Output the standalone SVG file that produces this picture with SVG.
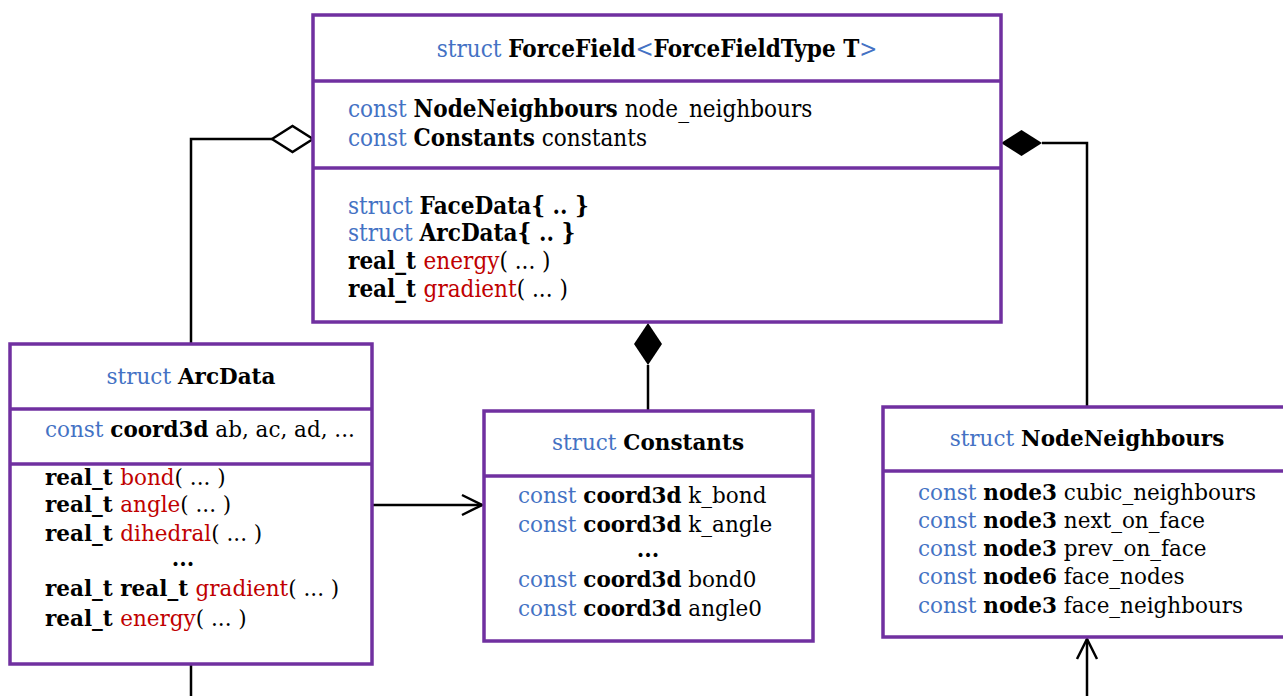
<svg xmlns="http://www.w3.org/2000/svg" width="1283" height="696" viewBox="0 0 1283 696">
  <style>
    .box { fill: #ffffff; stroke: #7030A0; stroke-width: 3.5; }
    .div { stroke: #7030A0; stroke-width: 3.5; }
    .edge { fill: none; stroke: #000000; stroke-width: 2.5; }
    text { font-family: "DejaVu Serif", "Liberation Serif", serif; font-size: 21.5px; fill: #000000; }
    .hdr { font-size: 23.5px; }
    .cond { font-stretch: condensed; font-size: 24px; }
    .kw { fill: #4472C4; }
    .fn { fill: #C00000; }
    .b { font-weight: bold; }
  </style>
  <defs>
    <marker id="open-arrow" viewBox="0 0 24 24" refX="22" refY="12" markerWidth="24" markerHeight="24" markerUnits="userSpaceOnUse" orient="auto">
      <path d="M2,2 L22,12 L2,22" fill="none" stroke="#000" stroke-width="2.5"/>
    </marker>
  </defs>

  <!-- connectors -->
  <g id="connectors">
    <!-- ArcData aggregated by ForceField -->
    <polyline class="edge" points="191,344 191,139 272,139"/>
    <polygon points="272,139 292.5,126 313,139 292.5,152" fill="#fff" stroke="#000" stroke-width="2.5"/>
    <!-- NodeNeighbours composed into ForceField -->
    <polyline class="edge" points="1042,143 1087,143 1087,407"/>
    <polygon points="1001,143 1021.5,130 1042,143 1021.5,156" fill="#000"/>
    <!-- Constants composed into ForceField -->
    <line class="edge" x1="648" y1="365" x2="648" y2="411"/>
    <polygon points="648,323 662,344 648,365 634,344" fill="#000"/>
    <!-- ArcData uses Constants -->
    <line class="edge" x1="372" y1="505" x2="482" y2="505" marker-end="url(#open-arrow)"/>
    <!-- lines leaving the frame -->
    <line class="edge" x1="191" y1="664" x2="191" y2="696"/>
    <line class="edge" x1="1087" y1="696" x2="1087" y2="639" marker-end="url(#open-arrow)"/>
  </g>

  <!-- ForceField -->
  <g id="forcefield">
    <rect class="box" x="313" y="15" width="688" height="307"/>
    <line class="div" x1="313" y1="81" x2="1001" y2="81"/>
    <line class="div" x1="313" y1="168" x2="1001" y2="168"/>
    <text class="cond" x="657" y="57" text-anchor="middle"><tspan class="kw">struct </tspan><tspan class="b">ForceField</tspan><tspan class="kw">&lt;</tspan><tspan class="b">ForceFieldType T</tspan><tspan class="kw">&gt;</tspan></text>
    <text class="cond" x="348" y="117"><tspan class="kw">const </tspan><tspan class="b">NodeNeighbours</tspan> node_neighbours</text>
    <text class="cond" x="348" y="146"><tspan class="kw">const </tspan><tspan class="b">Constants</tspan> constants</text>
    <text class="cond" x="348" y="214"><tspan class="kw">struct </tspan><tspan class="b">FaceData{ .. }</tspan></text>
    <text class="cond" x="348" y="241"><tspan class="kw">struct </tspan><tspan class="b">ArcData{ .. }</tspan></text>
    <text class="cond" x="348" y="269"><tspan class="b">real_t </tspan><tspan class="fn">energy</tspan>( ... )</text>
    <text class="cond" x="348" y="297"><tspan class="b">real_t </tspan><tspan class="fn">gradient</tspan>( ... )</text>
  </g>

  <!-- ArcData -->
  <g id="arcdata">
    <rect class="box" x="10" y="344" width="362" height="320"/>
    <line class="div" x1="10" y1="409" x2="372" y2="409"/>
    <line class="div" x1="10" y1="464" x2="372" y2="464"/>
    <text x="191" y="384" text-anchor="middle"><tspan class="kw">struct </tspan><tspan class="b">ArcData</tspan></text>
    <text x="45" y="437"><tspan class="kw">const </tspan><tspan class="b">coord3d</tspan> ab, ac, ad, ...</text>
    <text x="45" y="485"><tspan class="b">real_t </tspan><tspan class="fn">bond</tspan>( ... )</text>
    <text x="45" y="512"><tspan class="b">real_t </tspan><tspan class="fn">angle</tspan>( ... )</text>
    <text x="45" y="541"><tspan class="b">real_t </tspan><tspan class="fn">dihedral</tspan>( ... )</text>
    <text class="b" x="183" y="566" text-anchor="middle">...</text>
    <text x="45" y="596"><tspan class="b">real_t real_t </tspan><tspan class="fn">gradient</tspan>( ... )</text>
    <text x="45" y="626"><tspan class="b">real_t </tspan><tspan class="fn">energy</tspan>( ... )</text>
  </g>

  <!-- Constants -->
  <g id="constants">
    <rect class="box" x="484" y="411" width="329" height="230"/>
    <line class="div" x1="484" y1="476" x2="813" y2="476"/>
    <text x="648" y="450" text-anchor="middle"><tspan class="kw">struct </tspan><tspan class="b">Constants</tspan></text>
    <text x="518" y="503"><tspan class="kw">const </tspan><tspan class="b">coord3d</tspan> k_bond</text>
    <text x="518" y="532"><tspan class="kw">const </tspan><tspan class="b">coord3d</tspan> k_angle</text>
    <text class="b" x="648" y="557" text-anchor="middle">...</text>
    <text x="518" y="587"><tspan class="kw">const </tspan><tspan class="b">coord3d</tspan> bond0</text>
    <text x="518" y="616"><tspan class="kw">const </tspan><tspan class="b">coord3d</tspan> angle0</text>
  </g>

  <!-- NodeNeighbours -->
  <g id="nodeneighbours">
    <rect class="box" x="883" y="407" width="410" height="230"/>
    <line class="div" x1="883" y1="471" x2="1283" y2="471"/>
    <text x="1087" y="446" text-anchor="middle"><tspan class="kw">struct </tspan><tspan class="b">NodeNeighbours</tspan></text>
    <text x="918" y="500"><tspan class="kw">const </tspan><tspan class="b">node3</tspan> cubic_neighbours</text>
    <text x="918" y="528"><tspan class="kw">const </tspan><tspan class="b">node3</tspan> next_on_face</text>
    <text x="918" y="556"><tspan class="kw">const </tspan><tspan class="b">node3</tspan> prev_on_face</text>
    <text x="918" y="584"><tspan class="kw">const </tspan><tspan class="b">node6</tspan> face_nodes</text>
    <text x="918" y="613"><tspan class="kw">const </tspan><tspan class="b">node3</tspan> face_neighbours</text>
  </g>
</svg>
